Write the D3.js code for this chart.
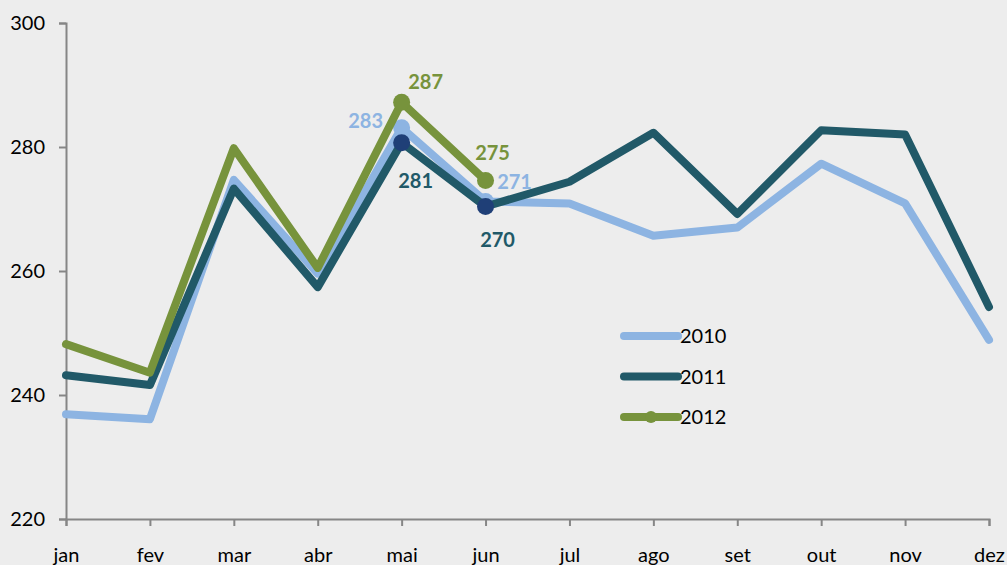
<!DOCTYPE html>
<html>
<head>
<meta charset="utf-8">
<script src="https://cdn.jsdelivr.net/npm/d3@7"></script>
<style>
  body { margin: 0; background: #ededed; }
  svg { display: block; }
</style>
</head>
<body>
<svg id="chart"></svg>
<script>
// months on the x axis
const months = ["jan", "fev", "mar", "abr", "mai", "jun", "jul", "ago", "set", "out", "nov", "dez"];
const yTicks = [220, 240, 260, 280, 300];

// values
const v2010 = [236.9, 236.1, 274.7, 259.6, 283.1, 271.2, 270.9, 265.7, 267.0, 277.3, 270.9, 248.9];
const v2011 = [243.2, 241.6, 273.3, 257.4, 280.7, 270.4, 274.4, 282.3, 269.2, 282.7, 282.0, 254.2];
const v2012 = [248.2, 243.6, 279.8, 260.5, 287.2, 274.6];

// labelled points: [month index, text]
const lab2010 = [[4, "283"], [5, "271"]];
const lab2011 = [[4, "281"], [5, "270"]];
const lab2012 = [[4, "287"], [5, "275"]];

const W = 1007, H = 565;
const margin = { top: 23, right: 18, bottom: 46, left: 66 };

const svg = d3.select("#chart").attr("width", W).attr("height", H);

svg.append("rect").attr("width", W).attr("height", H).attr("fill", "#ededed");

const x = d3.scalePoint().domain(months).range([margin.left, W - margin.right]);
const y = d3.scaleLinear().domain([220, 300]).range([H - margin.bottom, margin.top]);

const font = "Lato, 'Open Sans', sans-serif";

// axes
const yAxis = svg.append("g")
  .attr("transform", `translate(${margin.left},0)`)
  .call(d3.axisLeft(y).tickValues(yTicks).tickSize(7).tickPadding(14));
const xAxis = svg.append("g")
  .attr("transform", `translate(0,${y(220)})`)
  .call(d3.axisBottom(x).tickSize(7).tickPadding(22));

[yAxis, xAxis].forEach(a => {
  a.select(".domain").attr("stroke", "#868686").attr("stroke-width", 2);
  a.selectAll(".tick line").attr("stroke", "#868686").attr("stroke-width", 2);
  a.selectAll("text").attr("font-family", font).attr("font-size", 20).attr("fill", "#000");
});

const series = [
  { name: "2010", values: v2010, color: "#8db4e2", dot: "#8db4e2", labels: lab2010 },
  { name: "2011", values: v2011, color: "#215968", dot: "#1f3f77", labels: lab2011 },
  { name: "2012", values: v2012, color: "#77933c", dot: "#77933c", labels: lab2012 }
];

const line = d3.line()
  .x((d, i) => x(months[i]))
  .y(d => y(d));

series.forEach(s => {
  svg.append("path")
    .datum(s.values)
    .attr("d", line)
    .attr("fill", "none")
    .attr("stroke", s.color)
    .attr("stroke-width", 8)
    .attr("stroke-linejoin", "round")
    .attr("stroke-linecap", "round");

  svg.selectAll(null)
    .data(s.labels)
    .join("circle")
    .attr("cx", d => x(months[d[0]]))
    .attr("cy", d => y(s.values[d[0]]))
    .attr("r", 8.5)
    .attr("fill", s.dot);
});

// data labels, offsets per point
const labelPos = [
  { s: 0, i: 4, dx: -36, dy: -5 },
  { s: 0, i: 5, dx: 29, dy: -18 },
  { s: 1, i: 4, dx: 14, dy: 40 },
  { s: 1, i: 5, dx: 12, dy: 35 },
  { s: 2, i: 4, dx: 24, dy: -18 },
  { s: 2, i: 5, dx: 7, dy: -26 }
];
labelPos.forEach(p => {
  const s = series[p.s];
  const lbl = s.labels.find(d => d[0] === p.i)[1];
  svg.append("text")
    .attr("x", x(months[p.i]) + p.dx)
    .attr("y", y(s.values[p.i]) + p.dy)
    .attr("text-anchor", "middle")
    .attr("dominant-baseline", "middle")
    .attr("font-family", font)
    .attr("font-weight", "bold")
    .attr("font-size", 20)
    .attr("fill", s.color)
    .text(lbl);
});

// legend
const legend = svg.append("g").attr("transform", "translate(624,336)");
series.forEach((s, i) => {
  const g = legend.append("g").attr("transform", `translate(0,${i * 40.5})`);
  g.append("line")
    .attr("x1", 0).attr("x2", 54)
    .attr("stroke", s.color)
    .attr("stroke-width", 8)
    .attr("stroke-linecap", "round");
  if (s.name === "2012") {
    g.append("circle").attr("cx", 27).attr("r", 6).attr("fill", s.color);
  }
  g.append("text")
    .attr("x", 56)
    .attr("dy", "0.35em")
    .attr("font-family", font)
    .attr("font-size", 20)
    .attr("fill", "#000")
    .text(s.name);
});
</script>
</body>
</html>
